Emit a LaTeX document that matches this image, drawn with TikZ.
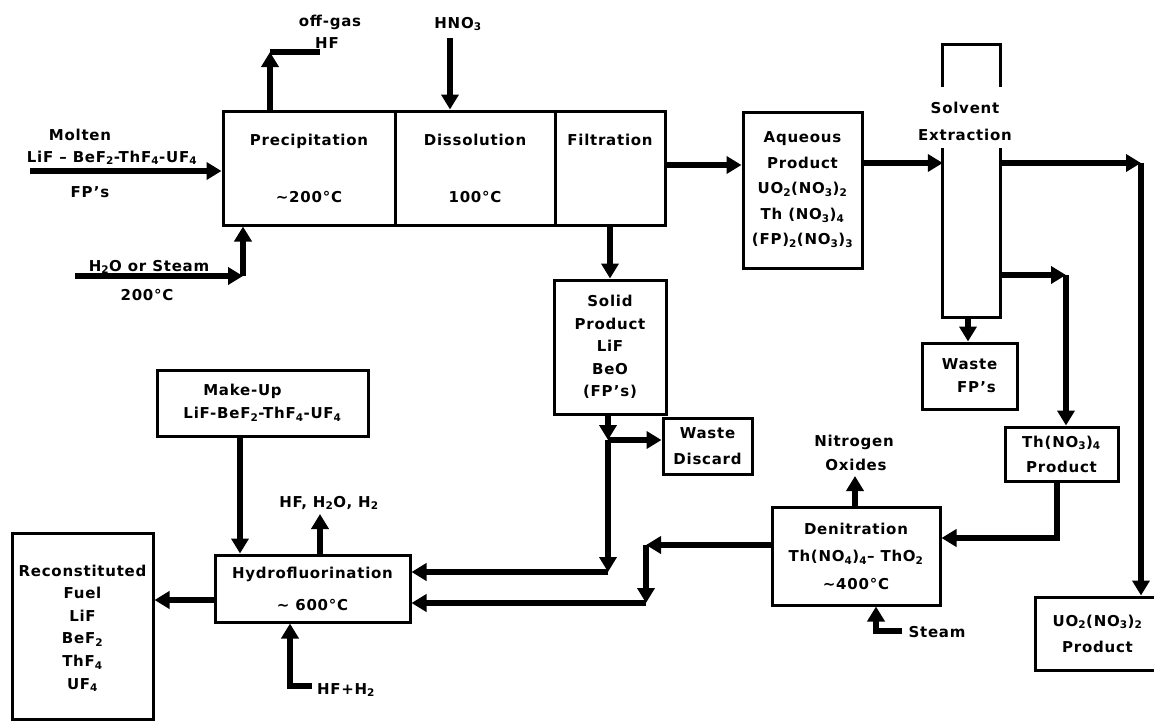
\documentclass[tikz,border=0pt]{standalone}
\usepackage{fontspec}
\setmainfont{DejaVu Sans}[LetterSpace=5]
\usetikzlibrary{arrows.meta}
\newcommand\sbs[1]{\textsubscript{#1}}
\newcommand\labfont{\fontsize{15}{23}\selectfont\bfseries}
\tikzset{
  box/.style={draw, line width=3pt, align=center, inner sep=0pt, font=\labfont},
  lsp/.style={font=\fontsize{15}{#1}\selectfont\bfseries},
  txt/.style={align=center, inner sep=0pt, font=\labfont, anchor=base},
  pipe/.style={line width=5.2pt},
  flow/.style={line width=5.2pt, -{Triangle[length=15pt,width=17pt]}},
  wall/.style={line width=3pt},
}
\begin{document}
\begin{tikzpicture}[x=1pt,y=-1pt]
\useasboundingbox[fill=white] (0,0) rectangle (1154,721);

% ---- boxes ----
\node[box, minimum width=172pt, minimum height=114pt] (precip) at (309,168) {Precipitation\\[34pt]\textasciitilde 200°C};
\node[box, minimum width=160pt, minimum height=114pt] (dissol) at (475,168) {Dissolution\\[34pt]100°C};
\node[box, minimum width=110pt, minimum height=114pt] (filtr) at (610,168) {Filtration\\[34pt]\phantom{100°C}};
\node[box, lsp=25.5pt, minimum width=119pt, minimum height=156pt] (aq) at (802.5,190)
  {Aqueous\\Product\\UO\sbs{2}(NO\sbs{3})\sbs{2}\\Th (NO\sbs{3})\sbs{4}\\(FP)\sbs{2}(NO\sbs{3})\sbs{3}};
\node[minimum width=57pt, minimum height=272pt, inner sep=0pt] (sx) at (971.5,181) {};
\node[txt, lsp=27pt, anchor=center] (sxt) at (965,121) {Solvent\\Extraction};
\node[box, minimum width=95pt, minimum height=66pt] (wfp) at (969.5,376) {Waste\\\hspace*{14pt}FP's};
\node[box, lsp=25pt, minimum width=113pt, minimum height=54pt] (th) at (1061.5,454) {Th(NO\sbs{3})\sbs{4}\\Product};
\node[box, lsp=26pt, minimum width=125pt, minimum height=73pt] (uo) at (1097.5,633.5) {UO\sbs{2}(NO\sbs{3})\sbs{2}\\Product};
\node[box, lsp=27.5pt, minimum width=168pt, minimum height=98pt] (denit) at (856,556)
  {Denitration\\Th(NO\sbs{4})\sbs{4}– ThO\sbs{2}\\\textasciitilde 400°C};
\node[box, lsp=22.5pt, minimum width=112pt, minimum height=134pt] (solid) at (610,347) {Solid\\Product\\LiF\\BeO\\(FP's)};
\node[box, lsp=26pt, minimum width=89pt, minimum height=56pt] (wd) at (707.5,446) {Waste\\Discard};
\node[box, minimum width=211pt, minimum height=66pt] (mu) at (262.5,403) {Make-Up\hspace*{40pt}\\LiF-BeF\sbs{2}-ThF\sbs{4}-UF\sbs{4}};
\node[box, lsp=32pt, minimum width=195pt, minimum height=67pt] (hydro) at (312.5,588.5) {Hydrofluorination\\\textasciitilde{} 600°C};
\node[box, lsp=22.6pt, minimum width=141pt, minimum height=186pt] (recon) at (82.5,626)
  {\rule{0pt}{16pt}Reconstituted\\Fuel\\LiF\\BeF\sbs{2}\\ThF\sbs{4}\\UF\sbs{4}};

% solvent extraction column walls
\draw[wall] (sx.west |- 0,87) -- (sx.north west) -- (sx.north east) -- (sx.east |- 0,87);
\draw[wall] (sx.west |- 0,148) -- (sx.south west) -- (sx.south east) -- (sx.east |- 0,148);

% ---- free labels ----
\node[txt] (lmolten) at (80,140) {Molten};
\node[txt] (lsalt) at (112,162) {LiF – BeF\sbs{2}-ThF\sbs{4}-UF\sbs{4}};
\node[txt] (lfps) at (90,197) {FP's};
\node[txt] (loff) at (330,26) {off-gas};
\node[txt] (lhf) at (327,48) {HF};
\node[txt] (lhno) at (458,28) {HNO\sbs{3}};
\node[txt] (lh2o) at (149,271) {H\sbs{2}O or Steam};
\node[txt] (l200) at (147,300) {200°C};
\node[txt] (lhfo) at (329,507) {HF, H\sbs{2}O, H\sbs{2}};
\node[txt] (lhfi) at (346,694) {HF+H\sbs{2}};
\node[txt] (lnit) at (854,446) {Nitrogen};
\node[txt] (loxi) at (856,470) {Oxides};
\node[txt] (lstm) at (937,637) {Steam};

% ---- connectors ----
\coordinate (mfeed) at (30,171);
\draw[flow] (mfeed) -- (precip.west |- mfeed);

\coordinate (h2oin) at (75,276);
\coordinate (h2oc) at (243,276);
\draw[flow] (h2oin) -- (h2oc);
\draw[flow] (h2oc) -- (precip.south -| h2oc);

\coordinate (ogc) at (270,52);
\coordinate (ogend) at (320,52);
\draw[flow] (precip.north -| ogc) -- (ogc);
\draw[pipe] (ogc) -- (ogend);

\coordinate (hno) at (450,38);
\draw[flow] (hno) -- (dissol.north -| hno);

\draw[flow] (filtr.east |- 0,165) -- (aq.west |- 0,165);
\draw[flow] (aq.east |- 0,163) -- (sx.west |- 0,163);

\coordinate (c1) at (1141,163);
\draw[flow] (sx.east |- c1) -- (c1);
\draw[flow] (c1) -- (uo.north -| c1);

\coordinate (c2) at (1066,275);
\draw[flow] (sx.east |- c2) -- (c2);
\draw[flow] (c2) -- (th.north -| c2);

\draw[flow] (sx.south -| 968,0) -- (wfp.north -| 968,0);

\coordinate (c3) at (1057,538);
\draw[flow] (th.south -| c3) |- (denit.east |- c3);

\coordinate (nox) at (855,476);
\draw[flow] (denit.north -| nox) -- (nox);

\coordinate (stm) at (902,631);
\draw[flow] (stm) -| (denit.south -| 876,0);

\coordinate (c4) at (646,545);
\coordinate (c5) at (646,603);
\draw[flow] (denit.west |- c4) -- (c4);
\draw[flow] (c4) -- (c5);
\draw[flow] (c5) -- (hydro.east |- c5);

\draw[flow] (filtr.south -| 610,0) -- (solid.north -| 610,0);
\coordinate (c6) at (608,440);
\coordinate (c7) at (608,572);
\draw[flow] (solid.south -| c6) -- (c6);
\draw[flow] (c6) -- (wd.west |- c6);
\draw[flow] (c6) -- (c7);
\draw[flow] (c7) -- (hydro.east |- c7);

\draw[flow] (mu.south -| 240,0) -- (hydro.north -| 240,0);

\coordinate (hfo) at (320,514);
\draw[flow] (hydro.north -| hfo) -- (hfo);

\coordinate (hfi) at (312,686);
\draw[flow] (hfi) -| (hydro.south -| 290,0);

\draw[flow] (hydro.west |- 0,600) -- (recon.east |- 0,600);
\end{tikzpicture}
\end{document}
